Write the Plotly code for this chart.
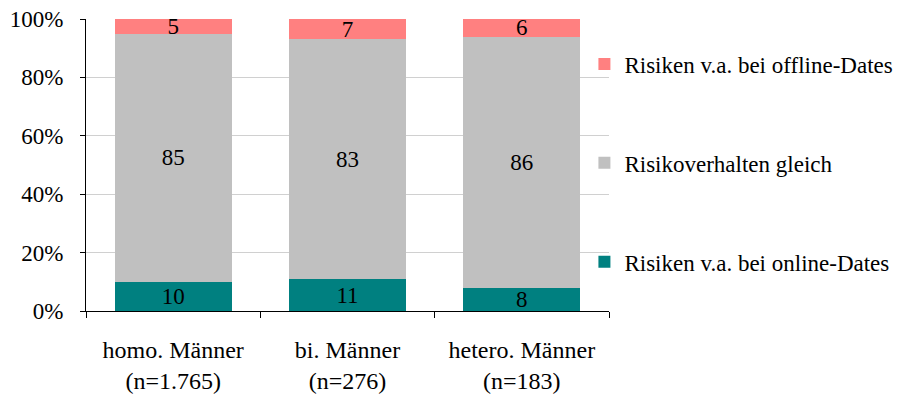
import plotly.graph_objects as go

# Data
categories = ["homo. Männer<br>(n=1.765)", "bi. Männer<br>(n=276)", "hetero. Männer<br>(n=183)"]
online = [10, 11, 8]
gleich = [85, 83, 86]
offline = [5, 7, 6]

series = [
    ("Risiken v.a. bei online-Dates", online, "#008080"),
    ("Risikoverhalten gleich", gleich, "#C0C0C0"),
    ("Risiken v.a. bei offline-Dates", offline, "#FF8080"),
]

FONT = "Liberation Serif, DejaVu Serif, serif"

fig = go.Figure()
for i, (name, vals, color) in enumerate(series):
    fig.add_trace(go.Bar(
        name=name,
        x=categories,
        y=vals,
        marker=dict(color=color, line=dict(width=0)),
        text=vals,
        texttemplate="%{text}",
        textposition="inside",
        insidetextanchor="middle",
        textangle=0,
        constraintext="none",
        textfont=dict(family=FONT, size=23, color="black"),
        legendgroup=str(i),
        legendrank=len(series) - i,
    ))

# page body has an 8px margin, so the figure is slightly smaller than the window
fig.update_layout(
    barmode="stack",
    barnorm="percent",
    bargap=0.33,
    width=902,
    height=386,
    margin=dict(l=78, r=301, t=11, b=83, autoexpand=False),
    paper_bgcolor="white",
    plot_bgcolor="white",
    font=dict(family=FONT, size=23, color="black"),
    showlegend=True,
    legend=dict(
        tracegroupgap=66,
        x=0.953, xanchor="left",
        y=0.507, yanchor="middle",
        font=dict(family=FONT, size=23, color="black"),
        bgcolor="rgba(0,0,0,0)",
    ),
    xaxis=dict(
        automargin=False,
        showline=True, linecolor="black", linewidth=1,
        ticks="outside", ticklen=6, tickcolor="black",
        tickson="boundaries",
        ticklabelstandoff=17,
        tickfont=dict(family=FONT, size=24, color="black"),
        showgrid=False,
    ),
    yaxis=dict(
        automargin=False,
        range=[0, 100],
        dtick=20,
        ticksuffix="%",
        ticklabeloverflow="allow",
        showline=True, linecolor="black", linewidth=1,
        ticks="outside", ticklen=5, tickcolor="black",
        ticklabelstandoff=12,
        showgrid=True, gridcolor="#D0D0D0", gridwidth=1,
        zeroline=False,
        tickfont=dict(family=FONT, size=23, color="black"),
    ),
)

fig.write_html("out.html")
